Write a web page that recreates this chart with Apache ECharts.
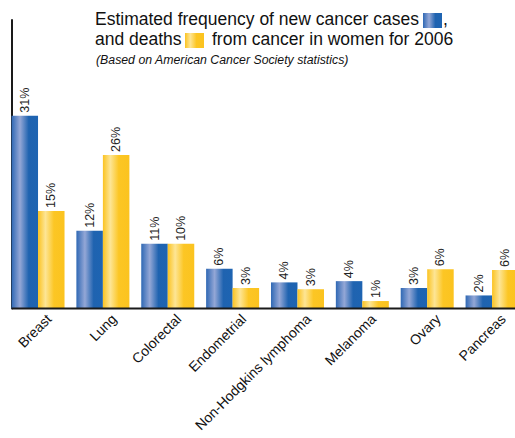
<!DOCTYPE html>
<html>
<head>
<meta charset="utf-8">
<script src="https://cdn.jsdelivr.net/npm/echarts@6/dist/echarts.min.js"></script>
<style>
html,body{margin:0;padding:0;background:#fff;}
#chart{width:515px;height:438px;}
</style>
</head>
<body>
<div id="chart"></div>
<script>
// Data
var categories = ['Breast', 'Lung', 'Colorectal', 'Endometrial', 'Non-Hodgkins lymphoma', 'Melanoma', 'Ovary', 'Pancreas'];
// bar heights as drawn (percent)
var newCases = [31.0, 12.5, 10.4, 6.4, 4.2, 4.4, 3.3, 2.1];
var deaths   = [15.7, 24.7, 10.4, 3.3, 3.1, 1.2, 6.3, 6.2];
// printed labels (percent)
var newCasesLabels = [31, 12, 11, 6, 4, 4, 3, 2];
var deathsLabels   = [15, 26, 10, 3, 3, 1, 6, 6];

var titleLine1a = 'Estimated frequency of new cancer cases';
var titleLine1b = ',';
var titleLine2a = 'and deaths';
var titleLine2b = 'from cancer in women for 2006';
var subtitle = '(Based on American Cancer Society statistics)';

var FONT = '"Liberation Sans", Arial, Helvetica, sans-serif';

function grad(stops) {
  return new echarts.graphic.LinearGradient(0, 0, 1, 0, stops);
}
var blueGrad = function () {
  return grad([
    {offset: 0, color: '#2f68b4'},
    {offset: 0.32, color: '#94a7d6'},
    {offset: 0.65, color: '#1f63b0'},
    {offset: 1, color: '#1e64b2'}
  ]);
};
var yellowGrad = function () {
  return grad([
    {offset: 0, color: '#fbc321'},
    {offset: 0.28, color: '#fde595'},
    {offset: 0.6, color: '#fcc624'},
    {offset: 1, color: '#fbc31f'}
  ]);
};

var chart = echarts.init(document.getElementById('chart'), null, {renderer: 'svg'});

function labelOpt(labels) {
  return {
    show: true,
    position: 'top',
    rotate: 90,
    align: 'left',
    verticalAlign: 'middle',
    distance: 3,
    color: '#222',
    fontFamily: FONT,
    fontSize: 12.5,
    formatter: function (p) { return labels[p.dataIndex] + '%'; }
  };
}

var titleStyle = {color: '#111', fontFamily: FONT, fontSize: 17.5, fontWeight: 'normal'};

chart.setOption({
  animation: false,
  backgroundColor: '#fff',
  title: [
    {text: titleLine1a, left: 95, top: 10, textStyle: titleStyle, padding: 0},
    {text: titleLine1b, left: 443, top: 10, textStyle: titleStyle, padding: 0},
    {text: titleLine2a, left: 95, top: 30, textStyle: titleStyle, padding: 0},
    {text: titleLine2b, left: 212, top: 30, textStyle: titleStyle, padding: 0},
    {text: subtitle, left: 96, top: 54, padding: 0,
     textStyle: {color: '#111', fontFamily: FONT, fontSize: 12.3, fontStyle: 'italic', fontWeight: 'normal'}}
  ],
  graphic: [
    {type: 'rect', shape: {x: 423, y: 13, width: 19, height: 15}, style: {fill: blueGrad()}},
    {type: 'rect', shape: {x: 185, y: 33, width: 19, height: 15}, style: {fill: yellowGrad()}},
    {type: 'line', shape: {x1: 12, y1: 308.5, x2: 515, y2: 308.5}, style: {stroke: '#1a1a1a', lineWidth: 2}, z: 10}
  ],
  grid: [
    {left: 5.6, right: -9.5, top: 20, bottom: 129.5, outerBoundsMode: 'none', containLabel: false},
    {left: 16.6, right: -20.5, top: 20, bottom: 129.5, outerBoundsMode: 'none', containLabel: false}
  ],
  xAxis: [
    {
      type: 'category',
      gridIndex: 0,
      data: categories,
      axisLine: {show: false},
      axisTick: {show: false},
      axisLabel: {show: false}
    },
    {
      type: 'category',
      gridIndex: 1,
      data: categories,
      axisLine: {show: false},
      axisTick: {show: false},
      axisLabel: {
        interval: 0,
        rotate: 45,
        margin: 8,
        color: '#111',
        fontFamily: FONT,
        fontSize: 14
      }
    }
  ],
  yAxis: [
    {
      type: 'value',
      gridIndex: 0,
      min: 0,
      max: 46.4,
      offset: -6.4,
      axisLine: {show: true, lineStyle: {color: '#1a1a1a', width: 2}},
      axisTick: {show: false},
      axisLabel: {show: false},
      splitLine: {show: false}
    },
    {
      type: 'value',
      gridIndex: 1,
      min: 0,
      max: 46.4,
      show: false
    }
  ],
  series: [
    {
      name: 'New cases',
      type: 'bar',
      data: newCases,
      barWidth: 26.5,
      barGap: '0%',
      itemStyle: {color: blueGrad()},
      label: labelOpt(newCasesLabels)
    },
    {
      name: 'Deaths',
      type: 'bar',
      data: deaths,
      barWidth: 26.5,
      barGap: '0%',
      itemStyle: {color: yellowGrad()},
      label: labelOpt(deathsLabels)
    }
  ]
});
</script>
</body>
</html>
